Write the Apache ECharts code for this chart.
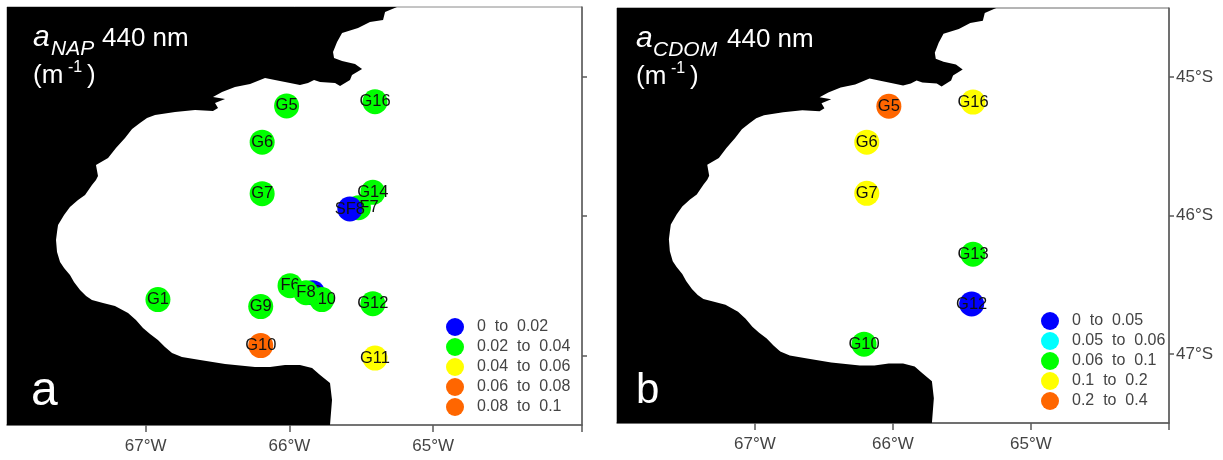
<!DOCTYPE html>
<html><head><meta charset="utf-8">
<style>html,body{margin:0;padding:0;background:#fff}#c{width:1223px;height:460px}</style>
<script src="https://cdn.jsdelivr.net/npm/echarts@6/dist/echarts.min.js"></script>
</head><body><div id="c"></div>
<script>
const coastLon = [-65.252,-65.335,-65.349,-65.440,-65.523,-65.634,-65.669,-65.697,-65.690,-65.634,-65.544,-65.495,-65.565,-65.579,-65.648,-65.683,-65.787,-65.829,-65.871,-65.927,-65.996,-66.101,-66.170,-66.274,-66.379,-66.469,-66.532,-66.448,-66.518,-66.497,-66.532,-66.657,-66.796,-66.935,-66.991,-67.040,-67.095,-67.144,-67.207,-67.262,-67.346,-67.332,-67.346,-67.374,-67.422,-67.471,-67.527,-67.568,-67.610,-67.617,-67.624,-67.617,-67.596,-67.568,-67.527,-67.499,-67.457,-67.415,-67.374,-67.297,-67.214,-67.123,-67.068,-67.019,-66.970,-66.915,-66.866,-66.817,-66.748,-66.622,-66.448,-66.240,-66.135,-66.031,-65.927,-65.843,-65.787,-65.718,-65.704,-65.718,-68.1,-68.1];
const coastLat = [-44.50,-44.536,-44.593,-44.608,-44.651,-44.687,-44.751,-44.823,-44.866,-44.888,-44.909,-44.945,-44.988,-45.024,-45.067,-45.045,-45.038,-45.024,-45.045,-45.060,-45.045,-45.024,-45.010,-45.053,-45.074,-45.110,-45.146,-45.160,-45.189,-45.225,-45.246,-45.239,-45.254,-45.275,-45.297,-45.333,-45.376,-45.440,-45.512,-45.584,-45.634,-45.713,-45.742,-45.778,-45.849,-45.885,-45.935,-45.993,-46.065,-46.115,-46.172,-46.258,-46.330,-46.373,-46.423,-46.474,-46.531,-46.574,-46.603,-46.624,-46.646,-46.696,-46.746,-46.804,-46.847,-46.890,-46.940,-46.983,-47.012,-47.033,-47.062,-47.084,-47.084,-47.069,-47.069,-47.091,-47.141,-47.199,-47.321,-47.5,-47.5,-44.5];

const napNames = ['G5','G6','G7','G16','G14','SF7','SF8','G1','G9','F6','F9','F10','F8','G12','G10','G11'];
const napLon = [-66.02,-66.19,-66.19,-65.405,-65.42,-65.52,-65.58,-66.915,-66.20,-65.996,-65.84,-65.775,-65.885,-65.42,-66.20,-65.405];
const napLat = [-45.21,-45.47,-45.84,-45.18,-45.83,-45.94,-45.95,-46.60,-46.65,-46.50,-46.55,-46.60,-46.55,-46.63,-46.93,-47.02];
const napClass = [1,1,1,1,1,1,0,1,1,1,0,1,1,1,3,2];
const napLegend = ['0  to  0.02','0.02  to  0.04','0.04  to  0.06','0.06  to  0.08','0.08  to  0.1'];

const cdomNames = ['G5','G6','G7','G16','G13','G12','G10'];
const cdomLon = [-66.03,-66.19,-66.19,-65.42,-65.42,-65.43,-66.21];
const cdomLat = [-45.21,-45.47,-45.84,-45.18,-46.28,-46.64,-46.93];
const cdomClass = [4,3,3,3,2,0,2];
const cdomLegend = ['0  to  0.05','0.05  to  0.06','0.06  to  0.1','0.1  to  0.2','0.2  to  0.4'];

const napColors = ['#0000ff','#00ff00','#ffff00','#ff6600','#ff6600'];
const cdomColors = ['#0000ff','#00ffff','#00ff00','#ffff00','#ff6600'];
const lonTicks = [-67,-66,-65];
const latTicks = [-47,-46,-45];

const layerOf = {F9:2, F8:5, SF8:6};
const labelShift = {SF7:[5,0]};

function stationSeries(axisIndex, names, lon, lat, cls, legend, colors){
  const out = [];
  legend.forEach((nm, c) => {
    const idx = names.map((_, i) => i).filter(i => cls[i] === c);
    const layers = [...new Set(idx.map(i => layerOf[names[i]] || 3))];
    if (!layers.length) layers.push(3);
    layers.forEach(z => {
      out.push({
        type:'scatter', name:nm, xAxisIndex:axisIndex, yAxisIndex:axisIndex, z:z, silent:true,
        symbol:'circle', symbolSize:25, itemStyle:{color:colors[c], opacity:1},
        label:{show:true, position:'inside', color:'#111', fontFamily:'Liberation Sans', fontSize:16.5},
        data: idx.filter(i => (layerOf[names[i]] || 3) === z).map(i => {
          const d = {name:names[i], value:[lon[i], lat[i]], label:{formatter:names[i]}};
          if (labelShift[names[i]]) d.label.offset = labelShift[names[i]];
          return d;
        })
      });
    });
  });
  return out;
}
function land(axisIndex){
  return {
    type:'custom', xAxisIndex:axisIndex, yAxisIndex:axisIndex, z:1, silent:true, clip:true, data:[[0,0]],
    renderItem:(p, api) => ({
      type:'polygon',
      shape:{points:coastLon.map((x,i) => api.coord([x, coastLat[i]]))},
      style:{fill:'#000'}
    })
  };
}
const axisCol = '#5a5a5a';
function xAx(gi, min, max){
  return {type:'value', gridIndex:gi, min, max, position:'bottom', splitLine:{show:false},
    axisLine:{show:true, onZero:false, lineStyle:{color:axisCol, width:1.5}},
    axisTick:{show:true, length:7, lineStyle:{color:axisCol, width:1.5}, customValues:lonTicks.concat([max])},
    axisLabel:{show:true, customValues:lonTicks, margin:13, color:'#444', fontFamily:'Liberation Sans', fontSize:17,
      formatter:v => Math.abs(v)+'°W'}};
}
function yAx(gi, labels){
  return {type:'value', gridIndex:gi, min:-47.5, max:-44.5, position:'right', splitLine:{show:false},
    axisLine:{show:true, onZero:false, lineStyle:{color:axisCol, width:1.5}},
    axisTick:{show:true, length:5, lineStyle:{color:axisCol, width:1.5}, customValues:latTicks},
    axisLabel:{show:labels, customValues:latTicks, margin:7, color:'#444', fontFamily:'Liberation Sans', fontSize:17,
      formatter:v => Math.abs(v)+'°S'}};
}
function leg(left, top, names){
  return {show:true, orient:'vertical', left, top, padding:0, itemGap:2, itemWidth:18, itemHeight:18, icon:'circle',
    selectedMode:false, data:names, textStyle:{color:'#444', fontFamily:'Liberation Sans', fontSize:16, padding:[0,0,0,8]}};
}
function txt(text, x, y, font){
  return {type:'text', z:20, silent:true, style:{text, x, y, font, fill:'#fff', textVerticalAlign:'middle', verticalAlign:'middle'}};
}
const F = 'Liberation Sans';
const chart = echarts.init(document.getElementById('c'), null, {renderer:'canvas'});
chart.setOption({
  animation:false, backgroundColor:'#fff',
  grid:[
    {left:7, top:7, width:575, height:418, show:true, borderColor:'#8a8a8a', borderWidth:1, backgroundColor:'#fff'},
    {left:617, top:8, width:552, height:415, show:true, borderColor:'#6a6a6a', borderWidth:1, backgroundColor:'#fff'}
  ],
  xAxis:[xAx(0,-67.965,-63.965), xAx(1,-68,-64)],
  yAxis:[yAx(0,false), yAx(1,true)],
  legend:[leg(446,318,napLegend), leg(1041,312,cdomLegend)],
  series:[land(0), land(1)]
    .concat(stationSeries(0,napNames,napLon,napLat,napClass,napLegend,napColors))
    .concat(stationSeries(1,cdomNames,cdomLon,cdomLat,cdomClass,cdomLegend,cdomColors)),
  graphic:[
    txt('a',33,38,'italic 30px '+F), txt('NAP',51,49,'italic 21px '+F), txt('440 nm',102,39,'26px '+F),
    txt('(m',33,76,'26px '+F), txt('-1',68,68,'16px '+F), txt(')',87,76,'26px '+F), txt('a',31,392,'48px '+F),
    txt('a',636,39,'italic 30px '+F), txt('CDOM',653,50,'italic 21px '+F), txt('440 nm',727,40,'26px '+F),
    txt('(m',636,77,'26px '+F), txt('-1',671,69,'16px '+F), txt(')',690,77,'26px '+F), txt('b',636,391,'42px '+F)
  ]
});
</script></body></html>
